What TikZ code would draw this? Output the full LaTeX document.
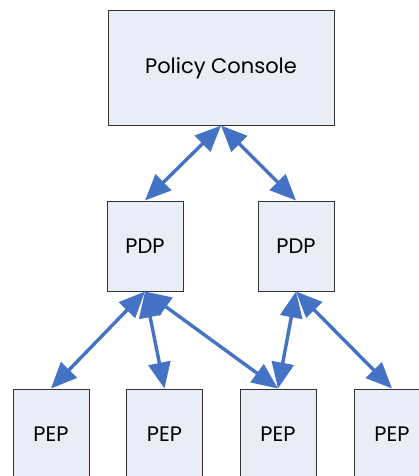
\documentclass[tikz,border=0pt]{standalone}
\usepackage{fontspec}
\setsansfont{Poppins}
\usetikzlibrary{arrows.meta,positioning}
\definecolor{boxfill}{HTML}{E9EDF6}
\definecolor{linkblue}{HTML}{4472C4}

\begin{document}
\begin{tikzpicture}[
    x=1pt, y=1pt,
    node distance=178pt,
    >={Triangle[length=26pt,width=22pt]},
    font=\sffamily\fontsize{21}{25}\selectfont,
    unit/.style={
		rectangle,
		draw=black!80,
		line width=1pt,
		text centered,
		minimum width=76pt,
		minimum height=90pt,
		fill=boxfill
	},
	link/.style={
		draw=linkblue,
		line width=3.4pt,
		<->
	}
  ]
  \useasboundingbox (0,0) rectangle (419,-476);

    % We start by placing the blocks
  \node [unit, minimum width=226pt, minimum height=114pt] (console) at (221,-68) {Policy Console};

  \node [unit, below of=console, xshift=-76pt] (pdpL) {PDP};
  \node [unit, below of=console, xshift=75pt] (pdpR) {PDP};

  \node [unit, below of=pdpL, yshift=-10pt, xshift=-94pt] (pepA) {PEP};
  \node [unit, below of=pdpL, yshift=-10pt, xshift=19.5pt] (pepB) {PEP};
  \node [unit, below of=pdpL, yshift=-10pt, xshift=133pt] (pepC) {PEP};
  \node [unit, below of=pdpR, yshift=-10pt, xshift=96pt] (pepD) {PEP};

 \draw [link] (console.south) -- (pdpL.north);
 \draw [link] (console.south) -- (pdpR.north);
 \draw [link] (pdpL.south) -- (pepA.north);
 \draw [link] (pdpL.south) -- (pepB.north);
 \draw [link] (pdpL.south) -- (pepC.north);
 \draw [link] (pdpR.south) -- (pepC.north);
 \draw [link] (pdpR.south) -- (pepD.north);

\end{tikzpicture}
\end{document}
